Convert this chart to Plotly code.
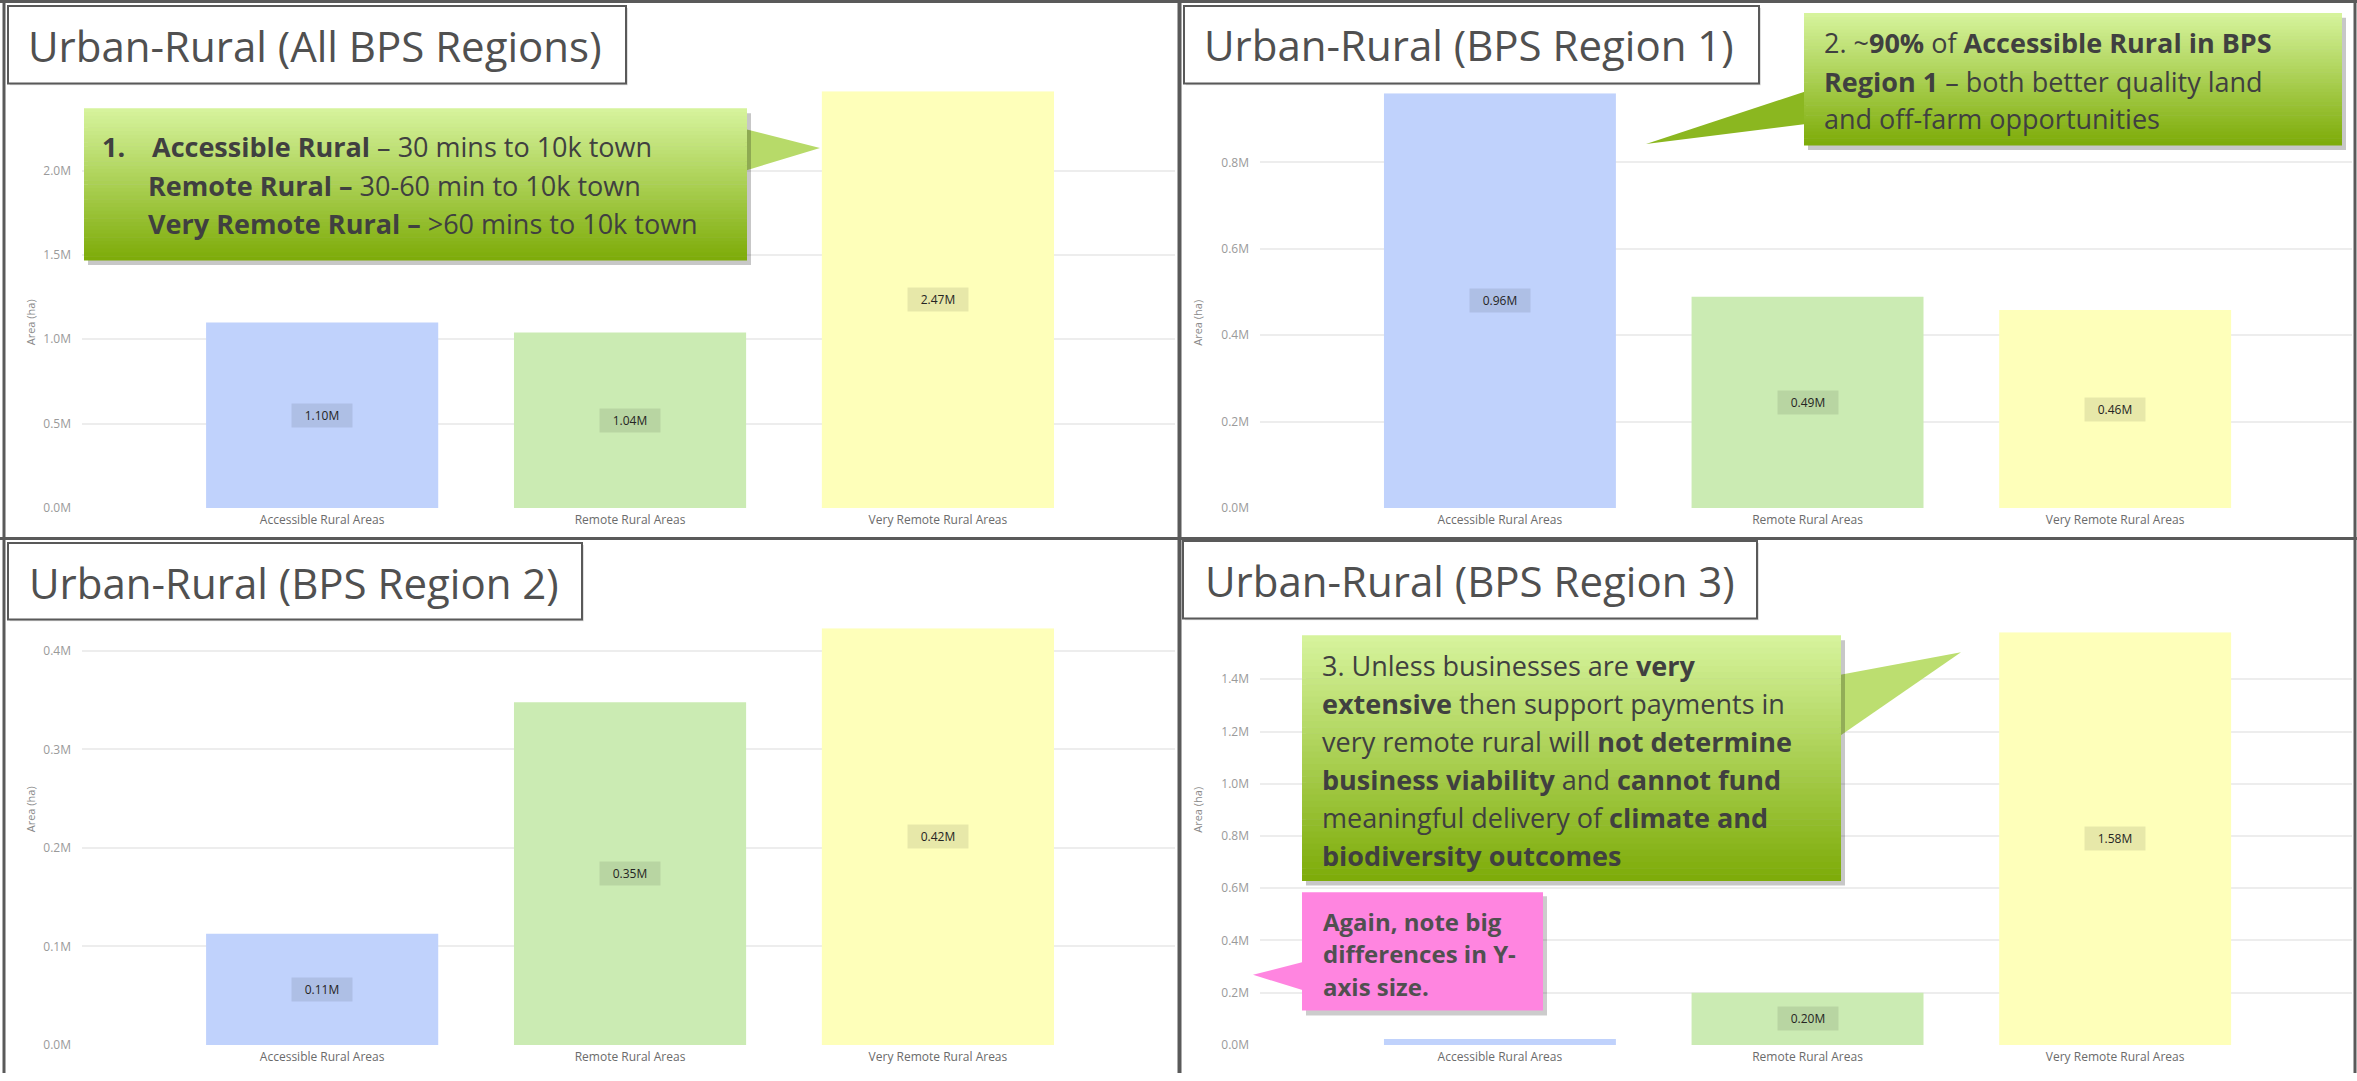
import plotly.graph_objects as go

# ---------------- data ----------------
categories = ["Accessible Rural Areas", "Remote Rural Areas", "Very Remote Rural Areas"]
all_regions = [1.10, 1.04, 2.47]      # million ha
region_1 = [0.96, 0.489, 0.458]
region_2 = [0.113, 0.348, 0.423]
region_3 = [0.023, 0.20, 1.58]

panel_titles = ["Urban-Rural (All BPS Regions)", "Urban-Rural (BPS Region 1)",
                "Urban-Rural (BPS Region 2)", "Urban-Rural (BPS Region 3)"]
panel_dticks = [0.5, 0.2, 0.1, 0.2]

bar_colors = ["#C0D2FC", "#CBEBB3", "#FEFFBA"]

W, H = 2357, 1081
FONT = "Open Sans"


def px(x):
    return x / W


def py(y):
    return 1 - y / H


fig = go.Figure()

panels = [
    # values, axis suffix, x domain px, y domain px (top, bottom)
    (all_regions, "", (82, 1175), (92, 511.7)),
    (region_1, "2", (1260, 2352), (94, 511.7)),
    (region_2, "3", (82, 1175), (633, 1052.7)),
    (region_3, "4", (1260, 2352), (637, 1052.7)),
]

annotations = []
shapes = []
layout_axes = {}

for i, (vals, sfx, (xd0, xd1), (yt, yb)) in enumerate(panels):
    xa = "x" + sfx
    ya = "y" + sfx
    fig.add_trace(go.Bar(
        x=categories, y=vals, xaxis=xa, yaxis=ya,
        marker=dict(color=bar_colors, line=dict(width=0)),
        width=0.754, showlegend=False, hoverinfo="x+y",
    ))
    layout_axes["xaxis" + sfx] = dict(
        domain=[px(xd0), px(xd1)], range=[-0.78, 2.77], anchor=ya,
        showgrid=False, zeroline=False, showline=False, ticks="",
        tickfont=dict(family=FONT, size=12, color="#6b6b6b"),
        ticklabelstandoff=3, fixedrange=True,
    )
    layout_axes["yaxis" + sfx] = dict(
        domain=[py(yb), py(yt)], range=[0, max(vals)], anchor=xa,
        dtick=panel_dticks[i], tick0=0, tickformat=".1f", ticksuffix="M",
        showgrid=True, gridcolor="#EDEDED", gridwidth=1.5, zeroline=False,
        showline=False, ticks="",
        tickfont=dict(family=FONT, size=12, color="#9a9a9a"),
        ticklabelstandoff=10, fixedrange=True,
    )
    # data labels
    vmax = max(vals)
    for c, v in zip(categories, vals):
        if v >= 0.05 * vmax:
            annotations.append(dict(
                x=c, y=v / 2, xref=xa, yref=ya, text=f"{v:.2f}M",
                showarrow=False, bgcolor="rgba(0,0,0,0.09)",
                width=58, height=21,
                font=dict(family=FONT, size=12, color="#252423"),
            ))
    # y axis title
    ax_x = 21 if sfx in ("", "3") else 1198
    ax_y = 300 if sfx in ("", "2") else 841
    annotations.append(dict(
        x=px(ax_x), y=py(ax_y), xref="paper", yref="paper", text="Area (ha)",
        textangle=-90, showarrow=False,
        font=dict(family=FONT, size=11, color="#8a8a8a"),
    ))

# ---------------- title boxes ----------------
title_boxes = [
    ((8, 6, 626, 84), (26, 46)),
    ((1184, 6, 1759, 84), (1202, 45)),
    ((8, 547, 582, 624), (27, 587)),
    ((1183, 545, 1757, 623), (1203, 585)),
]
for (bx0, by0, bx1, by1), (tx, ty) in title_boxes:
    shapes.append(dict(type="rect", xref="paper", yref="paper",
                       x0=px(bx0 + 2), x1=px(bx1 + 2), y0=py(by1 + 2), y1=py(by0 + 2),
                       fillcolor="rgba(0,0,0,0.12)", line=dict(width=0), layer="above"))
    shapes.append(dict(type="rect", xref="paper", yref="paper",
                       x0=px(bx0), x1=px(bx1), y0=py(by1), y1=py(by0),
                       fillcolor="white", line=dict(color="#595959", width=2), layer="above"))
for (box, (tx, ty)), t in zip(title_boxes, panel_titles):
    annotations.append(dict(x=px(tx), y=py(ty), xref="paper", yref="paper", text=t,
                            xanchor="left", yanchor="middle", showarrow=False,
                            font=dict(family=FONT, size=42, color="#505050")))

# ---------------- callouts ----------------
TOP_C = (214, 243, 156)
BOT_C = (126, 172, 10)


def mix(t):
    return "rgb(%d,%d,%d)" % tuple(round(a + (b - a) * t) for a, b in zip(TOP_C, BOT_C))


def grad_box(x0, y0, x1, y1, n=40):
    # shadow
    shapes.append(dict(type="rect", xref="paper", yref="paper",
                       x0=px(x0 + 4), x1=px(x1 + 4), y0=py(y1 + 5), y1=py(y0 + 5),
                       fillcolor="rgba(0,0,0,0.22)", line=dict(width=0), layer="above"))
    h = (y1 - y0) / n
    for k in range(n):
        shapes.append(dict(type="rect", xref="paper", yref="paper",
                           x0=px(x0), x1=px(x1), y0=py(y0 + (k + 1) * h + 0.5), y1=py(y0 + k * h),
                           fillcolor=mix(k / (n - 1)), line=dict(width=0), layer="above"))


def pointer(pts, color):
    path = "M " + " L ".join(f"{px(x)},{py(y)}" for x, y in pts) + " Z"
    shapes.append(dict(type="path", xref="paper", yref="paper", path=path,
                       fillcolor=color, line=dict(width=0), layer="above"))


# callout 1
pointer([(745, 130), (820, 149), (745, 172)], mix(0.35))
grad_box(84, 109, 747, 262)
# callout 2
pointer([(1806, 92), (1646, 145), (1806, 125)], mix(0.85))
grad_box(1804, 13, 2342, 146)
# callout 3
pointer([(1839, 680), (1961, 657), (1839, 742)], mix(0.3))
grad_box(1302, 640, 1841, 887)
# pink callout
shapes.append(dict(type="rect", xref="paper", yref="paper",
                   x0=px(1306), x1=px(1547), y0=py(1023), y1=py(903),
                   fillcolor="rgba(0,0,0,0.2)", line=dict(width=0), layer="above"))
pointer([(1304, 969), (1253, 982), (1304, 998)], "#FF85E0")
shapes.append(dict(type="rect", xref="paper", yref="paper",
                   x0=px(1302), x1=px(1543), y0=py(1018), y1=py(899),
                   fillcolor="#FF85E0", line=dict(width=0), layer="above"))


def line_text(x, y, text, size=27, color="#404040"):
    annotations.append(dict(x=px(x), y=py(y), xref="paper", yref="paper", text=text,
                            xanchor="left", yanchor="middle", showarrow=False,
                            font=dict(family=FONT, size=size, color=color)))


line_text(100, 148, "<b>1.</b>")
line_text(150, 148, "<b>Accessible Rural</b> – 30 mins to 10k town")
line_text(146, 187, "<b>Remote Rural –</b> 30-60 min to 10k town")
line_text(146, 225, "<b>Very Remote Rural –</b> >60 mins to 10k town")

line_text(1822, 43, "2. ~<b>90%</b> of <b>Accessible Rural in BPS</b>")
line_text(1822, 82, "<b>Region 1</b> – both better quality land")
line_text(1822, 119, "and off-farm opportunities")

c3 = [
    "3. Unless businesses are <b>very</b>",
    "<b>extensive</b> then support payments in",
    "very remote rural will <b>not determine</b>",
    "<b>business viability</b> and <b>cannot fund</b>",
    "meaningful delivery of <b>climate and</b>",
    "<b>biodiversity outcomes</b>",
]
for k, t in enumerate(c3):
    line_text(1320, 670 + k * 38.3, t)

for k, t in enumerate(["Again, note big", "differences in Y-", "axis size."]):
    line_text(1321, 928 + k * 33, "<b>" + t + "</b>", size=24, color="#505050")

# ---------------- panel borders (left, top, right, separators) ----------------
BORDER = "#5a5a5a"
for (x0, y0, x1, y1, w) in [
    (4, 0, 4, H, 3),            # left
    (0, 1.5, W, 1.5, 3),        # top
    (W - 2, 0, W - 2, H, 3),    # right
    (1179.5, 0, 1179.5, H, 4),  # vertical separator
    (0, 542.5, W, 542.5, 3),    # horizontal separator
]:
    shapes.append(dict(type="line", xref="paper", yref="paper",
                       x0=px(x0), x1=px(x1), y0=py(y0), y1=py(y1),
                       line=dict(color=BORDER, width=w), layer="above"))

fig.update_layout(
    width=W, height=H, margin=dict(l=0, r=0, t=0, b=0),
    paper_bgcolor="white", plot_bgcolor="white",
    shapes=shapes, annotations=annotations, showlegend=False,
    **layout_axes,
)

page_fix = """
(function(){
  var h = window.innerHeight;
  if (!(h > 1000 && h < 1300)) { h = %d; }
  [document.documentElement, document.body].forEach(function(el){
    el.style.margin='0'; el.style.padding='0'; el.style.overflow='hidden';
    el.style.height=h+'px'; el.style.width='%dpx';
  });
  if (h !== %d) {
    var gd = document.getElementById('{plot_id}');
    Plotly.relayout(gd, {height: h});
  }
})();
""" % (H, W, H)

fig.write_html(
    "out.html",
    config={"displayModeBar": False},
    post_script=page_fix,
)
